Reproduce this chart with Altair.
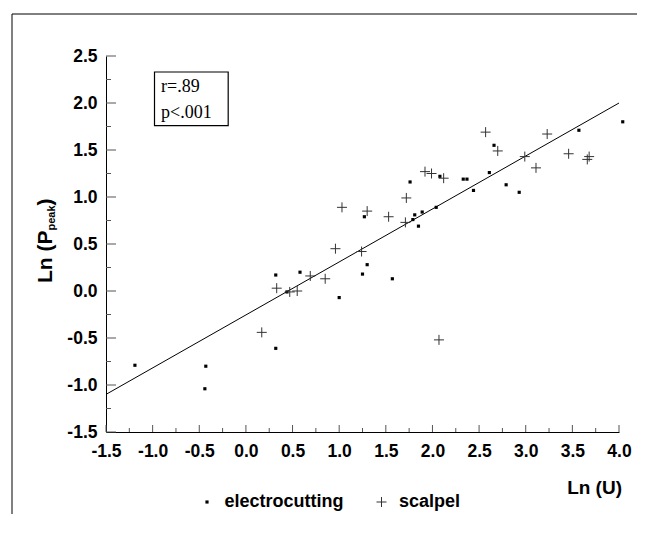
import altair as alt
import pandas as pd

# ---- data ----
elec_x = [-1.19, -0.43, -0.44, 0.32, 0.32, 0.44, 0.58, 1.00, 1.27, 1.25, 1.30, 1.57,
          1.76, 1.79, 1.81, 1.85, 1.89, 2.04, 2.08, 2.33, 2.37, 2.44, 2.61, 2.66,
          2.79, 2.93, 3.57, 4.04]
elec_y = [-0.79, -0.80, -1.04, 0.17, -0.61, -0.01, 0.20, -0.07, 0.79, 0.18, 0.28, 0.13,
          1.16, 0.76, 0.81, 0.69, 0.84, 0.89, 1.22, 1.19, 1.19, 1.07, 1.26, 1.55,
          1.13, 1.05, 1.71, 1.80]
scal_x = [0.17, 0.33, 0.47, 0.55, 0.69, 0.85, 0.96, 1.03, 1.24, 1.30, 1.53, 1.71, 1.72,
          1.92, 1.99, 2.12, 2.07, 2.57, 2.70, 2.99, 3.11, 3.23, 3.46, 3.66, 3.68]
scal_y = [-0.44, 0.03, -0.01, 0.00, 0.16, 0.13, 0.45, 0.89, 0.42, 0.85, 0.79, 0.73, 0.99,
          1.27, 1.25, 1.20, -0.52, 1.69, 1.49, 1.43, 1.31, 1.67, 1.46, 1.40, 1.43]
series = ["electrocutting", "scalpel"]

fit_x = [-1.5, 4.0]
fit_y = [-1.10, 2.00]

x_major = [-1.5, -1.0, -0.5, 0.0, 0.5, 1.0, 1.5, 2.0, 2.5, 3.0, 3.5, 4.0]
x_minor = [-1.25, -0.75, -0.25, 0.25, 0.75, 1.25, 1.75, 2.25, 2.75, 3.25, 3.75]
y_major = [-1.5, -1.0, -0.5, 0.0, 0.5, 1.0, 1.5, 2.0, 2.5]
y_minor = [-1.25, -0.75, -0.25, 0.25, 0.75, 1.25, 1.75, 2.25]

box_x = [-0.98, -0.19]
box_y = [1.76, 2.33]
stat_text = ["r=.89", "p<.001"]
stat_x = [-0.91, -0.91]
stat_y = [2.117, 1.840]

W, H = 513, 376
SANS = "Liberation Sans"

pts = pd.DataFrame({
    "x": elec_x + scal_x,
    "y": elec_y + scal_y,
    "series": [series[0]] * len(elec_x) + [series[1]] * len(scal_x),
})

lab_expr = "(datum.value < 0 ? '-' : '') + format(abs(datum.value), '.1f')"
xaxis = alt.Axis(values=x_major, labelExpr=lab_expr, title=None, ticks=False, tickSize=0,
                 domainColor="black", domainWidth=1, labelFont=SANS, labelFontSize=17.5,
                 labelFontWeight="bold", labelColor="black", labelPadding=10, grid=False,
                 labelFlush=False, labelOverlap=False)
yaxis = alt.Axis(values=y_major, labelExpr=lab_expr, title=None, ticks=False, tickSize=0,
                 domainColor="black", domainWidth=1, labelFont=SANS, labelFontSize=17.5,
                 labelFontWeight="bold", labelColor="black", labelPadding=9, grid=False,
                 labelFlush=False, labelOverlap=False)
xs = alt.Scale(domain=[-1.5, 4.0], nice=False, zero=False)
ys = alt.Scale(domain=[-1.5, 2.5], nice=False, zero=False)
X = alt.X("x:Q", scale=xs, axis=xaxis)
Y = alt.Y("y:Q", scale=ys, axis=yaxis)

legend = alt.Legend(orient="none", legendX=92, legendY=437, direction="horizontal",
                    title=None, labelFont=SANS, labelFontSize=18, labelFontWeight="bold",
                    labelColor="black", labelOffset=8.5, columnPadding=28.5,
                    symbolStrokeWidth=1, padding=0)
cross = "M-1,0L1,0M0,-1L0,1"

points = alt.Chart(pts).mark_point(opacity=1, strokeWidth=1).encode(
    x=X, y=Y,
    shape=alt.Shape("series:N", scale=alt.Scale(domain=series, range=["square", cross]), legend=legend),
    size=alt.Size("series:N", scale=alt.Scale(domain=series, range=[10, 100]), legend=legend),
    fill=alt.Fill("series:N", scale=alt.Scale(domain=series, range=["black", "transparent"]), legend=legend),
    stroke=alt.Stroke("series:N", scale=alt.Scale(domain=series, range=["transparent", "#333333"]), legend=legend),
)

fit = alt.Chart(pd.DataFrame({"x": fit_x, "y": fit_y})).mark_line(
    color="black", strokeWidth=1).encode(x=X, y=Y)

yt_major = alt.Chart(pd.DataFrame({"y": y_major})).mark_rule(color="#555555", strokeWidth=1).encode(
    y=Y, x=alt.value(0), x2=alt.value(10))
yt_minor = alt.Chart(pd.DataFrame({"y": y_minor})).mark_rule(color="#555555", strokeWidth=1).encode(
    y=Y, x=alt.value(0), x2=alt.value(5))
xt_major = alt.Chart(pd.DataFrame({"x": x_major})).mark_rule(color="#555555", strokeWidth=1).encode(
    x=X, y=alt.value(H), y2=alt.value(H - 7))
xt_minor = alt.Chart(pd.DataFrame({"x": x_minor})).mark_rule(color="#555555", strokeWidth=1).encode(
    x=X, y=alt.value(H), y2=alt.value(H - 4))

box = alt.Chart(pd.DataFrame({"x": [box_x[0]], "x2": [box_x[1]], "y": [box_y[0]], "y2": [box_y[1]]})).mark_rect(
    fill="white", stroke="black", strokeWidth=1.2).encode(x=X, x2="x2", y=Y, y2="y2")
stats = alt.Chart(pd.DataFrame({"x": stat_x, "y": stat_y, "t": stat_text})).mark_text(
    font="Liberation Serif", fontSize=18, align="left", baseline="alphabetic", color="black").encode(
    x=X, y=Y, text="t:N")

# y title with subscript
ytitle_main = alt.Chart(pd.DataFrame({"t": ["Ln (P"]})).mark_text(
    font=SANS, fontSize=21, fontWeight="bold", angle=270, align="left", baseline="alphabetic",
    color="black").encode(text="t:N", x=alt.value(-54), y=alt.value(227))
ytitle_sub = alt.Chart(pd.DataFrame({"t": ["peak"]})).mark_text(
    font=SANS, fontSize=11, fontWeight="bold", angle=270, align="left", baseline="alphabetic",
    color="black").encode(text="t:N", x=alt.value(-51), y=alt.value(174.5))
ytitle_end = alt.Chart(pd.DataFrame({"t": [")"]})).mark_text(
    font=SANS, fontSize=21, fontWeight="bold", angle=270, align="left", baseline="alphabetic",
    color="black").encode(text="t:N", x=alt.value(-54), y=alt.value(149.5))
xtitle = alt.Chart(pd.DataFrame({"t": ["Ln (U)"]})).mark_text(
    font=SANS, fontSize=19, fontWeight="bold", align="right", baseline="alphabetic",
    color="black").encode(text="t:N", x=alt.value(516), y=alt.value(438))

# figure frame: a rectangle whose right and bottom edges fall outside the page
frame = alt.Chart(pd.DataFrame({"k": [0]})).mark_rect(
    fill="transparent", stroke="black", strokeWidth=1).encode(
    x=alt.value(-94), x2=alt.value(700), y=alt.value(-42), y2=alt.value(700))

chart = alt.layer(
    frame, box, stats, fit, yt_major, yt_minor, xt_major, xt_minor,
    points, ytitle_main, ytitle_sub, ytitle_end, xtitle
).properties(
    width=W, height=H,
    autosize=alt.AutoSizeParams(type="none"),
    padding={"left": 98, "top": 48, "right": 18, "bottom": 82},
    background="white",
).configure_view(stroke=None)

chart.save("out.html", embed_options={"renderer": "svg", "actions": False})
